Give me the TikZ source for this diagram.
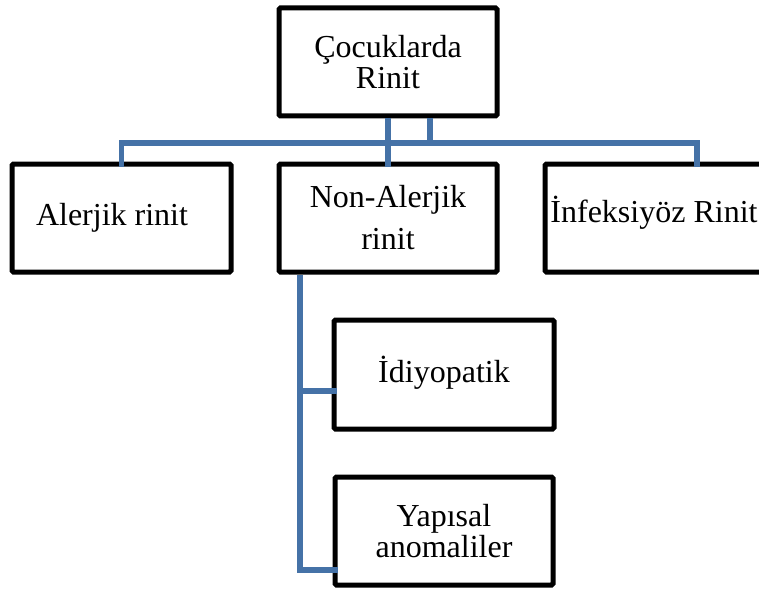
\documentclass[tikz,border=0pt]{standalone}
\usepackage{fontspec}
\setmainfont{Liberation Serif}
\definecolor{linkblue}{RGB}{69,114,167}
\begin{document}
\begin{tikzpicture}[x=1pt,y=-1pt,
  box/.style={draw=black, line width=5pt, rounded corners=1.5pt,
    minimum width=218pt, minimum height=108pt, inner sep=0pt,
    align=center, font=\fontsize{32}{31}\selectfont},
  oneline/.style={text height=22pt, text depth=7pt},
  link/.style={draw=linkblue, line width=5.5pt, line cap=butt, line join=miter}]
\useasboundingbox (0,0) rectangle (759,588);

% boxes
\node[box] (root) at (388,62) {Çocuklarda\\Rinit};
\node[box, oneline, minimum width=219pt] (alerjik) at (121.5,218) {Alerjik rinit\hspace*{19pt}};
\node[box] (mid) at (388,218) {Non-Alerjik\\[11pt]rinit};
\node[box, text height=15pt, text depth=7pt] (inf) at (654,218) {İnfeksiyöz Rinit};
\node[box, oneline, minimum width=220pt, minimum height=109pt] (idi) at (444,374.5) {İdiyopatik};
\node[box] (yap) at (444,531) {Yapısal\\anomaliler};

% junction points
\coordinate (rootjoin) at (430,143);
\coordinate (infjoin) at (697,143);
\coordinate (idijoin) at (300,391);
\coordinate (yapjoin) at (300,570);

% connectors
\draw[link, shorten >=-5pt] (root.south) -- (mid.north);
\draw[link] (root.south -| rootjoin) -- (rootjoin);
\draw[link, shorten <=-5pt, shorten >=-5pt]
  (alerjik.north) |- (infjoin) -- (inf.north -| infjoin);
\draw[link, shorten >=-5pt]
  (mid.south -| yapjoin) -- (yapjoin) -- (yapjoin -| yap.west);
\draw[link, shorten >=-5pt] (idijoin) -- (idijoin -| idi.west);
\end{tikzpicture}
\end{document}
